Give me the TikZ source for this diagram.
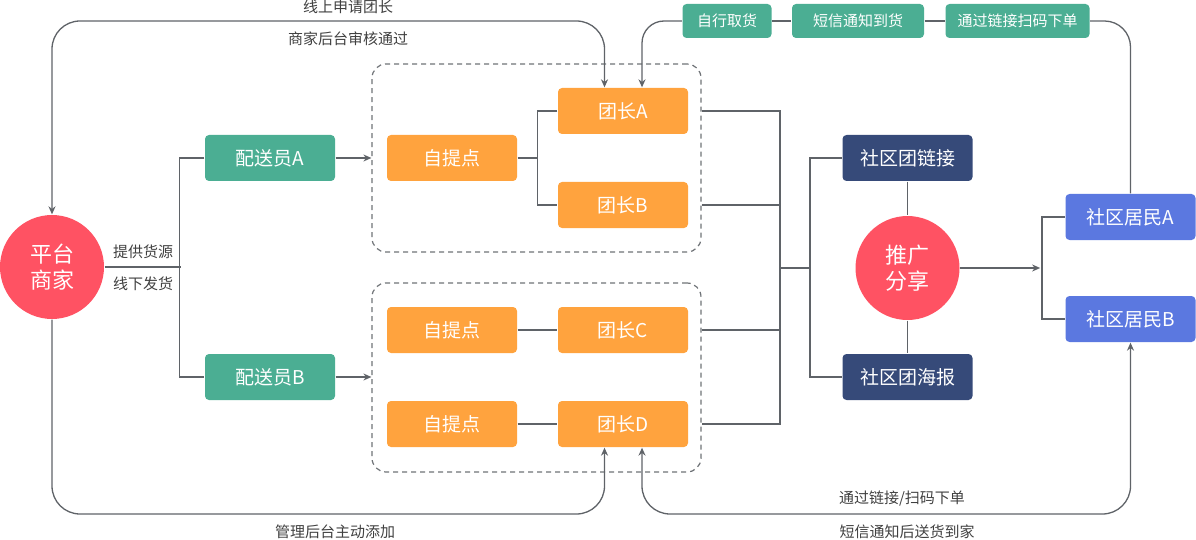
\documentclass[tikz,border=0pt]{standalone}
\usepackage{fontspec}
\setmainfont{Noto Sans CJK SC}
\usetikzlibrary{arrows.meta}
\definecolor{boxgreen}{HTML}{4BAE93}
\definecolor{boxorange}{HTML}{FFA33E}
\definecolor{hubred}{HTML}{FF5263}
\definecolor{boxnavy}{HTML}{364A79}
\definecolor{boxblue}{HTML}{5B78E0}
\definecolor{wire}{HTML}{5F6368}
\definecolor{lbl}{HTML}{404040}

\begin{document}
\begin{tikzpicture}[x=1pt,y=-1pt,line width=1.3pt,draw=wire,
  box/.style={rounded corners=4pt,minimum width=130pt,minimum height=46pt,inner sep=0pt,text=white,font=\fontsize{19}{22}\selectfont},
  tag/.style={rounded corners=4pt,minimum height=34pt,inner sep=0pt,fill=boxgreen,text=white,font=\fontsize{15}{18}\selectfont},
  hub/.style={circle,minimum size=104pt,inner sep=0pt,fill=hubred,text=white,align=center,font=\fontsize{22}{26}\selectfont},
  group/.style={draw=wire!90,line width=1.2pt,dash pattern=on 5pt off 4pt,rounded corners=14pt,minimum width=329pt,inner sep=0pt},
  note/.style={text=lbl,font=\fontsize{15}{18}\selectfont},
  tip/.style={-{Stealth[length=8pt,width=7pt]}},
  tips/.style={{Stealth[length=8pt,width=7pt]}-{Stealth[length=8pt,width=7pt]}}]
\useasboundingbox (0,0) rectangle (1196,540);

% platform and couriers
\node[hub] (pt) at (52,267) {平台\\商家};
\node[box,fill=boxgreen] (psA) at (270,158) {配送员A};
\node[box,fill=boxgreen] (psB) at (270,377) {配送员B};

% pickup groups
\node[group,minimum height=188pt] (grpA) at (536.5,158) {};
\node[group,minimum height=189pt] (grpB) at (536.5,377.5) {};
\node[box,fill=boxorange] (ztA) at (452,158) {自提点};
\node[box,fill=boxorange] (tzA) at (623,111) {团长A};
\node[box,fill=boxorange] (tzB) at (623,205) {团长B};
\node[box,fill=boxorange] (ztC) at (452,330) {自提点};
\node[box,fill=boxorange] (tzC) at (623,330) {团长C};
\node[box,fill=boxorange] (ztD) at (452,424) {自提点};
\node[box,fill=boxorange] (tzD) at (623,424) {团长D};

% sharing
\node[box,fill=boxnavy] (lk) at (907.5,158) {社区团链接};
\node[hub] (share) at (907.5,268) {推广\\分享};
\node[box,fill=boxnavy] (pos) at (907.5,377) {社区团海报};
\node[box,fill=boxblue] (ra) at (1130.5,217) {社区居民A};
\node[box,fill=boxblue] (rb) at (1130.5,319) {社区居民B};

% top tags
\node[tag,minimum width=89pt] (g1) at (727,21) {自行取货};
\node[tag,minimum width=132pt] (g2) at (858,21) {短信通知到货};
\node[tag,minimum width=144pt] (g3) at (1017.5,21) {通过链接扫码下单};

% platform to couriers
\draw (pt.east) -- (181,267);
\draw (psA.west) -- ++(-25,0) |- (psB.west);
\node[note] (src) at (143,252) {提供货源};
\node[note] (off) at (143,284) {线下发货};
\draw[tip] (psA.east) -- (psA.east -| grpA.west);
\draw[tip] (psB.east) -- (psB.east -| grpB.west);

% inside groups
\draw (ztA.east) -- (538,158);
\draw (tzA.west) -- ++(-20,0) |- (tzB.west);
\draw (ztC) -- (tzC);
\draw (ztD) -- (tzD);

% bus to sharing
\draw (grpA.east |- tzA) -| (780,424) -- (grpB.east |- tzD);
\draw (grpA.east |- tzB) -- (780,205);
\draw (grpB.east |- tzC) -- (780,330);
\draw (780,268) -- (811,268);
\draw (lk.west) -- ++(-32,0) |- (pos.west);
\draw (lk.south) -- (share.north);
\draw (share.south) -- (pos.north);
\draw[tip] (share.east) -- ++(80,0);
\draw (ra.west) -- ++(-23,0) |- (rb.west);

% loops
\draw[tips,rounded corners=28pt] (pt.north) -- (52,21) -- (604.5,21) -- ([xshift=-18.5pt]tzA.north);
\node[note] (apply) at (348,7) {线上申请团长};
\node[note] (audit) at (348,39) {商家后台审核通过};
\draw (g1) -- (g2) -- (g3);
\draw[tip,rounded corners=22pt] (g1.west) -- (642,21) -- ([xshift=19pt]tzA.north);
\draw[rounded corners=26pt] (g3.east) -- (1130.5,21) -- (ra.north);
\draw[tip,rounded corners=28pt] (pt.south) -- (52,514) -- (604.5,514) -- ([xshift=-18.5pt]tzD.south);
\node[note] (admin) at (335,532) {管理后台主动添加};
\draw[tips,rounded corners=28pt] ([xshift=19pt]tzD.south) -- (642,514) -- (1130.5,514) -- (rb.south);
\node[note] (order) at (902,499) {通过链接/扫码下单};
\node[note] (home) at (907,532) {短信通知后送货到家};
\end{tikzpicture}
\end{document}
